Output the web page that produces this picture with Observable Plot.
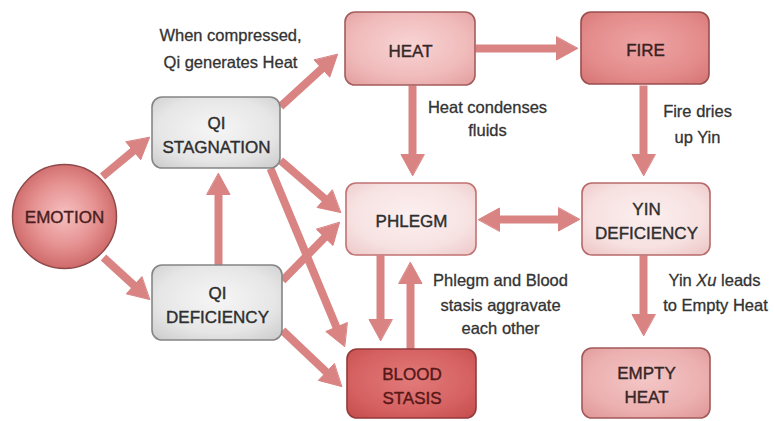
<!DOCTYPE html>
<html><head><meta charset="utf-8">
<script src="https://cdn.jsdelivr.net/npm/d3@7"></script>
<script src="https://cdn.jsdelivr.net/npm/@observablehq/plot@0.6"></script>
<style>body{margin:0;background:#fff;} svg{display:block;}</style>
</head><body><div id="chart"></div>
<script>
// ---- data: nodes of the diagram ----
const nodeNames  = ["QI STAGNATION","QI DEFICIENCY","HEAT","FIRE","PHLEGM","YIN DEFICIENCY","BLOOD STASIS","EMPTY HEAT"];
const nodeLabels = ["QI\nSTAGNATION","QI\nDEFICIENCY","HEAT","FIRE","PHLEGM","YIN\nDEFICIENCY","BLOOD\nSTASIS","EMPTY\nHEAT"];
const nodeTones  = ["grey","grey","heat","fire","phlegm","yin","blood","empty"];
const rootLabel  = "EMOTION";

// ---- data: relations (source -> target) ----
const edgeFrom = ["EMOTION","EMOTION","QI DEFICIENCY","QI STAGNATION","QI STAGNATION","QI STAGNATION","QI DEFICIENCY","QI DEFICIENCY","HEAT","HEAT","FIRE","PHLEGM","PHLEGM","BLOOD STASIS","YIN DEFICIENCY"];
const edgeTo   = ["QI STAGNATION","QI DEFICIENCY","QI STAGNATION","HEAT","PHLEGM","BLOOD STASIS","PHLEGM","BLOOD STASIS","FIRE","PHLEGM","YIN DEFICIENCY","YIN DEFICIENCY","BLOOD STASIS","PHLEGM","EMPTY HEAT"];
const edgeBoth = [false,false,false,false,false,false,false,false,false,false,false,true,false,false,false];

// ---- data: annotation lines ----
const noteLines = ["When compressed,","Qi generates Heat","Heat condenses","fluids","Fire dries","up Yin","Phlegm and Blood","stasis aggravate","each other","Yin Xu leads","to Empty Heat"];

// ---- layout (diagram coordinates, pixels of a 774x421 canvas) ----
const nodeLeft   = [152,152,345,581,346,582,347,582];
const nodeTop    = [ 97,265, 12, 12,183,183,349,348];
const nodeRight  = [280,282,475,709,476,710,476,710];
const nodeBottom = [168,340, 85, 84,255,255,418,418];
const rootX = 64, rootY = 216, rootR = 52;
const edgeX1 = [102,103,218,280,280,270,282,282,475,412,643,478,380,410,643];
const edgeY1 = [176,257,265,106,160,168,280,330, 48, 85, 85,219,255,349,255];
const edgeX2 = [149,149,218,337,340,344,339,341,577,412,643,579,380,410,643];
const edgeY2 = [137,299,173, 54,212,346,222,386, 48,175,175,219,340,262,335];
const noteX  = [230,230,487,487,697,697,500,500,500,714,715];
const noteY  = [ 35, 62,107,130,111,137,280,305,328,280,305];

// ---- styles ----
const tones = {
  grey:   {light:"#f6f6f6", base:"#e6e6e6", dark:"#c9c9c9", stroke:"#858585", text:"#2e2e2e"},
  heat:   {light:"#f8d4d4", base:"#f0baba", dark:"#e29c9c", stroke:"#a45c5c", text:"#362828"},
  fire:   {light:"#eea4a4", base:"#e48c8c", dark:"#d47272", stroke:"#9a4e4e", text:"#3a2222"},
  phlegm: {light:"#fcf0f0", base:"#f7e2e2", dark:"#ecc6c6", stroke:"#c27272", text:"#2e2e2e"},
  yin:    {light:"#fcefef", base:"#f7e0e0", dark:"#ebc2c2", stroke:"#b86a6a", text:"#2e2e2e"},
  blood:  {light:"#e27a7a", base:"#d66262", dark:"#c44a4a", stroke:"#943a3a", text:"#571818"},
  empty:  {light:"#f4c6c6", base:"#ecb0b0", dark:"#de9494", stroke:"#a25a5a", text:"#362626"}
};
const arrowColor = "#d98383";
const font = "'Liberation Sans', Arial, Helvetica, sans-serif";

// ---- build tables ----
const nodes = nodeNames.map((n,i)=>({name:n,label:nodeLabels[i],tone:nodeTones[i],
  x1:nodeLeft[i],x2:nodeRight[i],y1:nodeTop[i],y2:nodeBottom[i],
  cx:(nodeLeft[i]+nodeRight[i])/2, cy:(nodeTop[i]+nodeBottom[i])/2}));
const headLen = 21, headHalf = 11.5;
const shafts = [], heads = [];
edgeFrom.forEach((f,i)=>{
  const x1=edgeX1[i], y1=edgeY1[i], x2=edgeX2[i], y2=edgeY2[i];
  const L = Math.hypot(x2-x1,y2-y1), ux=(x2-x1)/L, uy=(y2-y1)/L;
  const both = edgeBoth[i];
  const sx1 = both ? x1+ux*(headLen-2) : x1, sy1 = both ? y1+uy*(headLen-2) : y1;
  shafts.push({from:f,to:edgeTo[i],x1:sx1,y1:sy1,x2:x2-ux*(headLen-2),y2:y2-uy*(headLen-2)});
  const addHead=(tx,ty,dx,dy,k)=>{
    const bx=tx-dx*headLen, by=ty-dy*headLen;
    heads.push({k,x:tx,y:ty},{k,x:bx-dy*headHalf,y:by+dx*headHalf},{k,x:bx+dy*headHalf,y:by-dx*headHalf});
  };
  addHead(x2,y2,ux,uy,"h"+i);
  if (both) addHead(x1,y1,-ux,-uy,"t"+i);
});
const notes = noteLines.map((t,i)=>({text:t,x:noteX[i],y:noteY[i]}));

const svg = Plot.plot({
  width:774, height:421, margin:0,
  x:{domain:[0,774], axis:null},
  y:{domain:[0,421], axis:null, reverse:true},
  style:{fontFamily:font, background:"#fff"},
  marks:[
    Plot.link(shafts,{x1:"x1",y1:"y1",x2:"x2",y2:"y2",stroke:arrowColor,strokeWidth:8,strokeLinecap:"butt"}),
    Plot.line(heads,{x:"x",y:"y",z:"k",fill:arrowColor,stroke:arrowColor,strokeWidth:1,curve:"linear-closed"}),
    ...Object.keys(tones).map(t=>Plot.rect(nodes.filter(d=>d.tone===t),{
      x1:"x1",x2:"x2",y1:"y1",y2:"y2",rx:10,ry:10,
      fill:`url(#g-${t})`,stroke:tones[t].stroke,strokeWidth:1.6})),
    Plot.dot([{x:rootX,y:rootY}],{x:"x",y:"y",r:rootR,fill:"url(#g-root)",stroke:"#8e4a4a",strokeWidth:1.5}),
    ...Object.keys(tones).map(t=>Plot.text(nodes.filter(d=>d.tone===t),{
      x:"cx",y:"cy",text:"label",fill:tones[t].text,stroke:tones[t].text,strokeWidth:0.4,paintOrder:"fill",
      fontSize:17,lineHeight:1.4,lineAnchor:"middle"})),
    Plot.text([{x:rootX,y:rootY+1,t:rootLabel}],{x:"x",y:"y",text:"t",fill:"#4a1e1e",stroke:"#4a1e1e",strokeWidth:0.4,paintOrder:"fill",fontSize:17,lineAnchor:"middle"}),
    Plot.text(notes,{x:"x",y:"y",text:"text",fill:"#333",stroke:"#333",strokeWidth:0.3,paintOrder:"fill",fontSize:16.5,lineAnchor:"middle"})
  ]
});

// gradients
const defs = d3.select(svg).insert("defs",":first-child");
for (const [k,c] of Object.entries(tones)) {
  const g = defs.append("radialGradient").attr("id","g-"+k).attr("cx","50%").attr("cy","45%").attr("r","75%");
  g.append("stop").attr("offset","0%").attr("stop-color",c.light);
  g.append("stop").attr("offset","60%").attr("stop-color",c.base);
  g.append("stop").attr("offset","100%").attr("stop-color",c.dark);
}
const gr = defs.append("radialGradient").attr("id","g-root").attr("cx","50%").attr("cy","48%").attr("r","55%");
gr.append("stop").attr("offset","0%").attr("stop-color","#f6c0c0");
gr.append("stop").attr("offset","55%").attr("stop-color","#e69292");
gr.append("stop").attr("offset","100%").attr("stop-color","#cc6464");

// italic "Xu"
d3.select(svg).selectAll("text").each(function(){
  if (this.textContent === "Yin Xu leads") {
    const el = d3.select(this); el.text(null);
    el.append("tspan").text("Yin ");
    el.append("tspan").attr("font-style","italic").text("Xu");
    el.append("tspan").text(" leads");
  }
});
document.getElementById("chart").append(svg);
</script></body></html>
